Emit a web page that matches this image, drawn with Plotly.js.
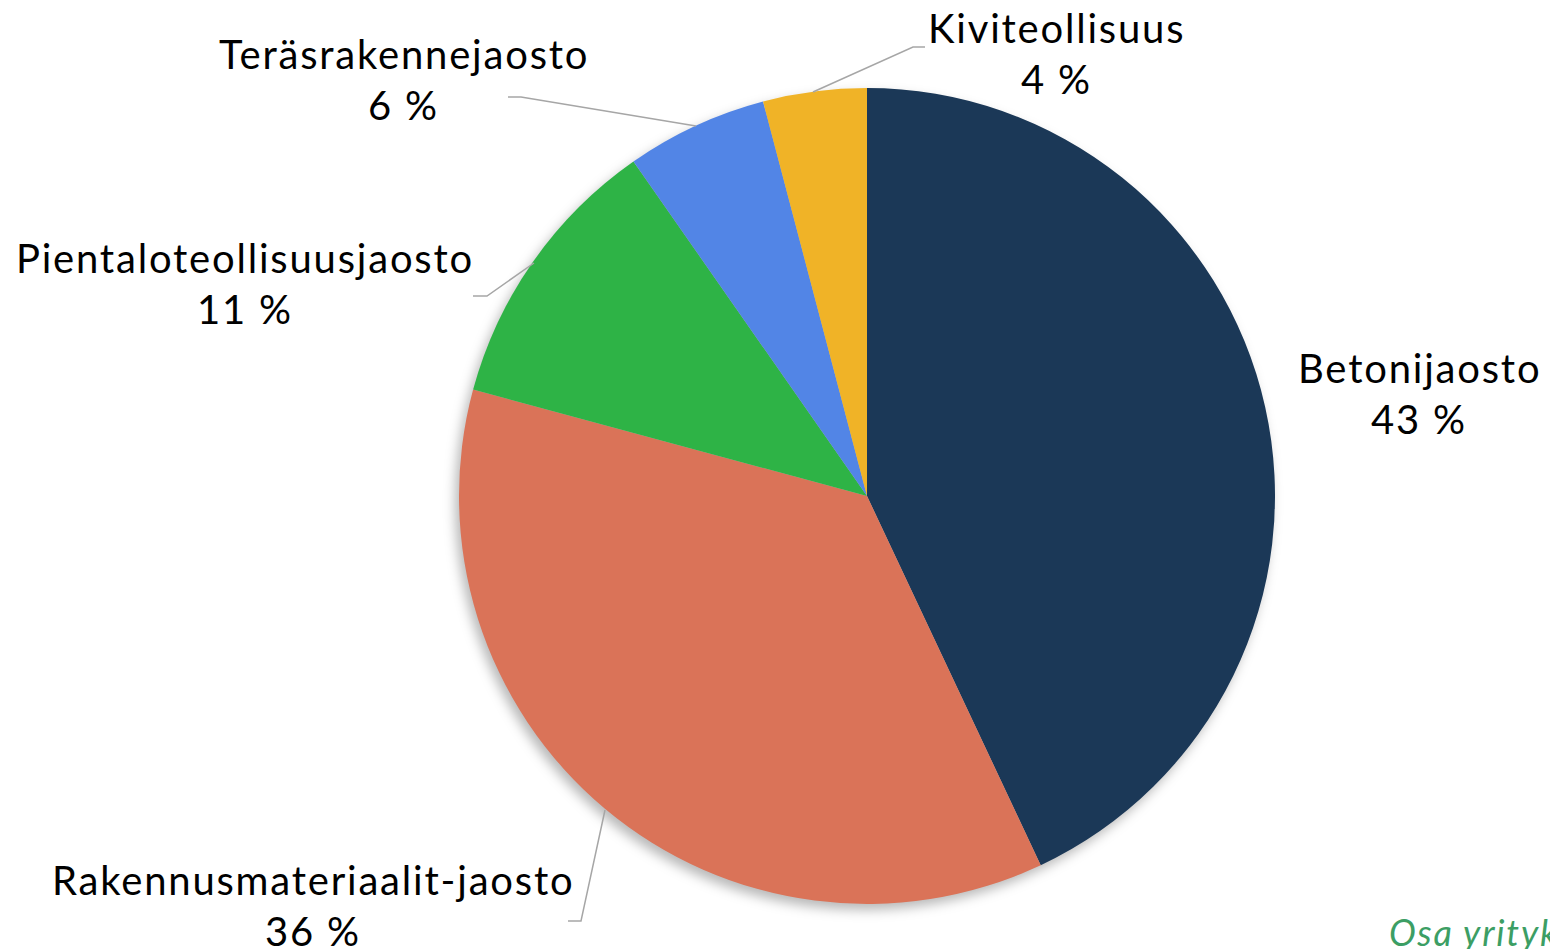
<!DOCTYPE html>
<html>
<head>
<meta charset="utf-8">
<script src="https://cdn.plot.ly/plotly-3.0.1.min.js"></script>
<style>
html,body{margin:0;padding:0;background:#fff;overflow:hidden;}
#chart{width:1550px;height:949px;}
.pielayer{filter: drop-shadow(-4px 6px 6px rgba(0,0,0,0.28));}
.annotation-text{letter-spacing:1.8px;}
</style>
</head>
<body>
<div id="chart"></div>
<script>
// Data
var labels = ["Betonijaosto", "Rakennusmateriaalit-jaosto", "Pientaloteollisuusjaosto", "Teräsrakennejaosto", "Kiviteollisuus"];
var values = [43.0, 36.2, 11.1, 5.6, 4.1];
var colors = ["#1B3857", "#DA7358", "#2EB346", "#5285E6", "#F0B327"];
var footnote = "Osa yrityk";

// Label placement: center x and baseline of first line (pixels in 1550x949 page)
var labelPos = [
  {x: 1419, y: 382},
  {x: 313,  y: 894},
  {x: 245,  y: 272},
  {x: 404,  y: 68},
  {x: 1056, y: 42}
];
var lineGap = 51;
// leader lines (pixel paths)
var leaders = [
  null,
  [[605,810],[581,921],[568,921]],
  [[534,263],[487,296],[473,296]],
  [[696,126],[521,97],[508,97]],
  [[813,92],[913,47],[925,47]]
];

var W = 1550, H = 949;
function px(x){return x / W;}
function py(y){return 1 - y / H;}

var cx = 867, cy = 496, r = 408;

var trace = {
  type: "pie",
  labels: labels,
  values: values,
  sort: false,
  direction: "clockwise",
  rotation: 0,
  textinfo: "none",
  hoverinfo: "label+percent",
  marker: {colors: colors, line: {width: 0}},
  domain: {x: [px(cx - r), px(cx + r)], y: [py(cy + r), py(cy - r)]},
  showlegend: false
};

var FS = 40;
var mid = 14; // baseline -> visual middle offset
var total = values.reduce(function(a,b){return a+b;}, 0);
var annotations = [];
labels.forEach(function(l, i){
  var lines = [l, Math.round(values[i] / total * 100) + " %"];
  lines.forEach(function(t, k){
    annotations.push({
      xref: "paper", yref: "paper",
      x: px(labelPos[i].x), y: py(labelPos[i].y + k * lineGap - mid),
      xanchor: "center", yanchor: "middle",
      showarrow: false,
      text: t,
      font: {family: "Lato, sans-serif", size: FS, color: "#000000"}
    });
  });
});
annotations.push({
  xref: "paper", yref: "paper",
  x: px(1387), y: py(945 - 13),
  xanchor: "left", yanchor: "middle",
  showarrow: false,
  text: "<i>" + footnote + "</i>",
  font: {family: "Lato, sans-serif", size: 36, color: "#3C9E64"}
});

var shapes = [];
leaders.forEach(function(pts){
  if(!pts) return;
  var d = pts.map(function(p, k){return (k ? "L" : "M") + px(p[0]) + "," + py(p[1]);}).join(" ");
  shapes.push({type: "path", xref: "paper", yref: "paper", path: d,
    line: {color: "#A6A6A6", width: 1.5}});
});

var layout = {
  width: W, height: H,
  margin: {l: 0, r: 0, t: 0, b: 0},
  paper_bgcolor: "#ffffff",
  plot_bgcolor: "#ffffff",
  annotations: annotations,
  shapes: shapes
};

Plotly.newPlot("chart", [trace], layout, {displayModeBar: false, staticPlot: true});
</script>
</body>
</html>
